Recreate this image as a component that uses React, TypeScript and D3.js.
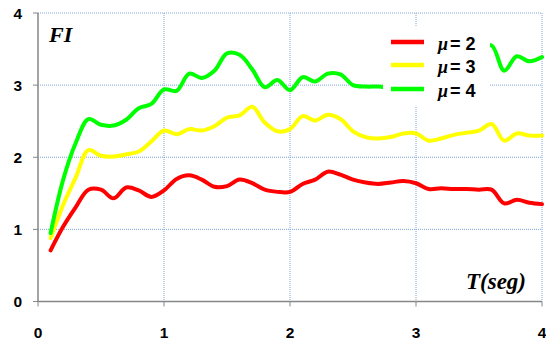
import React from "react";
import * as d3 from "d3";

// Period T (seconds) and strength-reduction factor FI for each ductility level
const periods: number[] = [
  0.1, 0.2, 0.3, 0.4, 0.5, 0.6, 0.7, 0.8, 0.9, 1.0,
  1.1, 1.2, 1.3, 1.4, 1.5, 1.6, 1.7, 1.8, 1.9, 2.0,
  2.1, 2.2, 2.3, 2.4, 2.5, 2.6, 2.7, 2.8, 2.9, 3.0,
  3.1, 3.2, 3.3, 3.4, 3.5, 3.6, 3.7, 3.8, 3.9, 4.0,
];

const fiMu2: number[] = [
  0.71, 1.04, 1.31, 1.55, 1.55, 1.43, 1.58, 1.54, 1.45, 1.54,
  1.70, 1.75, 1.69, 1.59, 1.60, 1.69, 1.64, 1.55, 1.52, 1.52,
  1.63, 1.69, 1.80, 1.76, 1.69, 1.65, 1.63, 1.65, 1.67, 1.64,
  1.56, 1.57, 1.56, 1.56, 1.55, 1.55, 1.36, 1.41, 1.37, 1.35,
];

const fiMu3: number[] = [
  0.88, 1.34, 1.72, 2.10, 2.02, 2.01, 2.04, 2.08, 2.22, 2.37,
  2.32, 2.39, 2.37, 2.43, 2.55, 2.58, 2.70, 2.48, 2.36, 2.39,
  2.57, 2.51, 2.59, 2.53, 2.36, 2.28, 2.26, 2.28, 2.33, 2.33,
  2.23, 2.26, 2.31, 2.34, 2.37, 2.46, 2.23, 2.33, 2.30, 2.30,
];

const fiMu4: number[] = [
  0.95, 1.69, 2.20, 2.53, 2.45, 2.44, 2.52, 2.68, 2.74, 2.94,
  2.92, 3.16, 3.10, 3.20, 3.44, 3.42, 3.22, 2.97, 3.07, 2.93,
  3.11, 3.05, 3.16, 3.15, 3.00, 2.98, 2.98, 2.97, 3.00, 3.05,
  3.10, 3.15, 3.25, 3.35, 3.50, 3.55, 3.20, 3.40, 3.33, 3.39,
];

const seriesNames: string[] = ["2", "3", "4"];
const seriesColors: string[] = ["#ff0000", "#ffff00", "#00ff00"];
const xTicks: number[] = [0, 1, 2, 3, 4];
const yTicks: number[] = [0, 1, 2, 3, 4];

const W = 546;
const H = 343;
const plot = { left: 38, right: 542, top: 13, bottom: 301.5 };

export default function App() {
  const x = d3.scaleLinear().domain([0, 4]).range([plot.left, plot.right]);
  const y = d3.scaleLinear().domain([0, 4]).range([plot.bottom, plot.top]);

  const allSeries = [fiMu2, fiMu3, fiMu4];
  const line = d3
    .line<number>()
    .x((_, i) => x(periods[i]))
    .y((v) => y(v))
    .curve(d3.curveCatmullRom.alpha(0.5));

  const grid = "#7ea6da";
  const axisColor = "#868686";
  const tickFont = "'Liberation Sans', Arial, sans-serif";
  const serif = "'Liberation Serif', 'Times New Roman', serif";

  const legendX = 391;
  const legendRows = [42, 65, 89];

  return (
    <svg
      width={W}
      height={H}
      style={{ position: "absolute", left: 0, top: 0, background: "#fff" }}
    >
      {/* dotted grid */}
      {yTicks.filter((t) => t > 0).map((t) => (
        <line
          key={"gy" + t}
          x1={plot.left}
          x2={plot.right}
          y1={y(t)}
          y2={y(t)}
          stroke={grid}
          strokeWidth={1}
          strokeDasharray="1 1"
        />
      ))}
      {xTicks.filter((t) => t > 0).map((t) => (
        <line
          key={"gx" + t}
          x1={x(t)}
          x2={x(t)}
          y1={plot.top}
          y2={plot.bottom}
          stroke={grid}
          strokeWidth={1}
          strokeDasharray="1 1"
        />
      ))}

      {/* axes */}
      <line x1={plot.left} x2={plot.left} y1={plot.top} y2={plot.bottom} stroke={axisColor} strokeWidth={1.5} />
      <line x1={plot.left} x2={plot.right} y1={plot.bottom} y2={plot.bottom} stroke={axisColor} strokeWidth={1.5} />
      {yTicks.map((t) => (
        <g key={"ty" + t}>
          <line x1={plot.left - 5} x2={plot.left} y1={y(t)} y2={y(t)} stroke={axisColor} strokeWidth={1} />
          <text
            x={22}
            y={y(t)}
            dy="0.36em"
            textAnchor="end"
            fontFamily={tickFont}
            fontWeight="bold"
            fontSize={15.5}
            fill="#000"
          >
            {t}
          </text>
        </g>
      ))}
      {xTicks.map((t) => (
        <g key={"tx" + t}>
          <line x1={x(t)} x2={x(t)} y1={plot.bottom} y2={plot.bottom + 5} stroke={axisColor} strokeWidth={1} />
          <text
            x={x(t)}
            y={337.5}
            textAnchor="middle"
            fontFamily={tickFont}
            fontWeight="bold"
            fontSize={15.5}
            fill="#000"
          >
            {t}
          </text>
        </g>
      ))}

      {/* series */}
      {allSeries.map((s, i) => (
        <path
          key={"s" + i}
          d={line(s) || ""}
          fill="none"
          stroke={seriesColors[i]}
          strokeWidth={4}
          strokeLinejoin="round"
          strokeLinecap="round"
        />
      ))}

      {/* axis titles */}
      <text x={49} y={42} fontFamily={serif} fontWeight="bold" fontStyle="italic" fontSize={22} fill="#000">
        FI
      </text>
      <text x={466} y={289} fontFamily={serif} fontWeight="bold" fontStyle="italic" fontSize={23} fill="#000">
        T(seg)
      </text>

      {/* legend */}
      <rect x={383} y={26} width={107} height={80} fill="#fff" />
      {seriesNames.map((n, i) => (
        <g key={"lg" + i}>
          <line
            x1={legendX}
            x2={legendX + 33}
            y1={legendRows[i]}
            y2={legendRows[i]}
            stroke={seriesColors[i]}
            strokeWidth={4.5}
          />
          <text x={438} y={legendRows[i] + 8} fontSize={18} fontWeight="bold" fill="#000">
            <tspan fontFamily={serif} fontStyle="italic">μ</tspan>
            <tspan fontFamily={tickFont} dx={2}>{"= " + n}</tspan>
          </text>
        </g>
      ))}
    </svg>
  );
}
